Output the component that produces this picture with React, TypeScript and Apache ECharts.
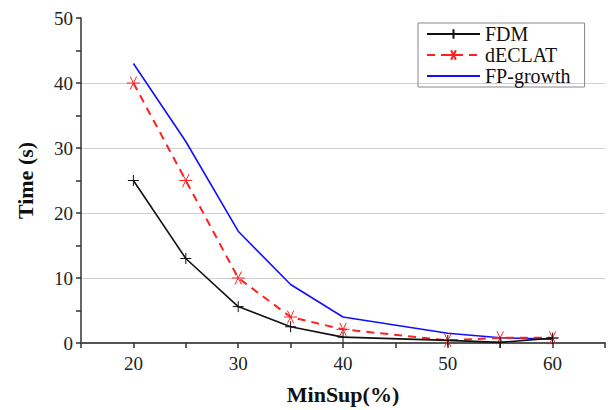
import React, { useEffect, useRef } from "react";
import * as echarts from "echarts";

const minSup = [20, 25, 30, 35, 40, 50, 55, 60];
const fdm = [25, 13, 5.6, 2.5, 0.9, 0.4, 0.1, 0.75];
const declat = [40, 25, 10, 4, 2.1, 0.4, 0.8, 0.8];
const fpGrowth = [43, 31, 17.2, 9, 4, 1.5, 0.8, 0.6];
const seriesNames = ["FDM", "dECLAT", "FP-growth"];

const SERIF = "'Liberation Serif', 'Times New Roman', serif";
const plusPath = "path://M0,-10L0,10M-10,0L10,0";
const starPath = "path://M-10,0L10,0M-5,-8.66L5,8.66M-5,8.66L5,-8.66";

const pairs = (ys: number[]) => minSup.map((x, i) => [x, ys[i]]);

export default function App() {
  const ref = useRef<HTMLDivElement>(null);
  useEffect(() => {
    if (!ref.current) return;
    const chart = echarts.init(ref.current, undefined, { renderer: "svg" });
    chart.setOption({
      animation: false,
      backgroundColor: "#ffffff",
      grid: { left: 81, right: 3, top: 18, bottom: 60 },
      legend: {
        orient: "vertical",
        left: 418,
        top: 23,
        padding: [1, 14, 1, 8],
        itemGap: 1,
        itemWidth: 53,
        itemHeight: 12,
        borderColor: "#888",
        borderWidth: 1,
        textStyle: { fontFamily: SERIF, fontSize: 20, color: "#111", lineHeight: 20 },
        data: [
          { name: seriesNames[0] },
          { name: seriesNames[1] },
          { name: seriesNames[2], itemStyle: { opacity: 0 } },
        ],
      },
      xAxis: {
        type: "value",
        min: 15,
        max: 65,
        interval: 5,
        name: "MinSup(%)",
        nameLocation: "middle",
        nameGap: 40,
        nameTextStyle: { fontFamily: SERIF, fontSize: 22, fontWeight: "bold", color: "#111" },
        axisLine: { lineStyle: { color: "#555", width: 2 } },
        axisTick: { show: true, length: 5, lineStyle: { color: "#333", width: 1.5 } },
        axisLabel: {
          fontFamily: SERIF,
          fontSize: 19,
          color: "#222",
          margin: 11,
          formatter: (v: number) => (v % 10 === 0 && v >= 20 && v <= 60 ? String(v) : ""),
        },
        splitLine: { show: false },
      },
      yAxis: {
        type: "value",
        min: 0,
        max: 50,
        interval: 10,
        name: "Time (s)",
        nameLocation: "middle",
        nameGap: 45,
        nameTextStyle: { fontFamily: SERIF, fontSize: 22, fontWeight: "bold", color: "#111" },
        axisLine: { show: true, lineStyle: { color: "#333", width: 1.5 } },
        axisTick: { show: true, length: 5, lineStyle: { color: "#333", width: 1.5 } },
        minorTick: { show: true, splitNumber: 2, length: 5, lineStyle: { color: "#333", width: 1.5 } },
        axisLabel: { fontFamily: SERIF, fontSize: 19, color: "#222", margin: 8 },
        splitLine: { show: true, showMinLine: false, showMaxLine: false, lineStyle: { color: "#d0d0d0", width: 1 } },
      },
      series: [
        {
          name: "FDM",
          type: "line",
          data: pairs(fdm),
          color: "#111",
          symbol: plusPath,
          symbolSize: 11,
          itemStyle: { color: "#111", borderColor: "#111", borderWidth: 1 },
          lineStyle: { color: "#111", width: 1.6 },
          z: 4,
        },
        {
          name: "dECLAT",
          type: "line",
          data: pairs(declat),
          color: "#ff2020",
          symbol: starPath,
          symbolSize: 13,
          itemStyle: { color: "#ff2020", borderColor: "#ff2020", borderWidth: 1 },
          lineStyle: { color: "#ff2020", width: 2, type: [8, 6] },
          z: 3,
        },
        {
          name: "FP-growth",
          type: "line",
          data: pairs(fpGrowth),
          color: "#1010ff",
          showSymbol: false,
          symbol: "none",
          lineStyle: { color: "#1010ff", width: 1.6 },
          z: 2,
        },
      ],
    });
    return () => chart.dispose();
  }, []);
  return (
    <div
      ref={ref}
      style={{ position: "fixed", left: 0, top: 0, width: 608, height: 410 }}
    />
  );
}
